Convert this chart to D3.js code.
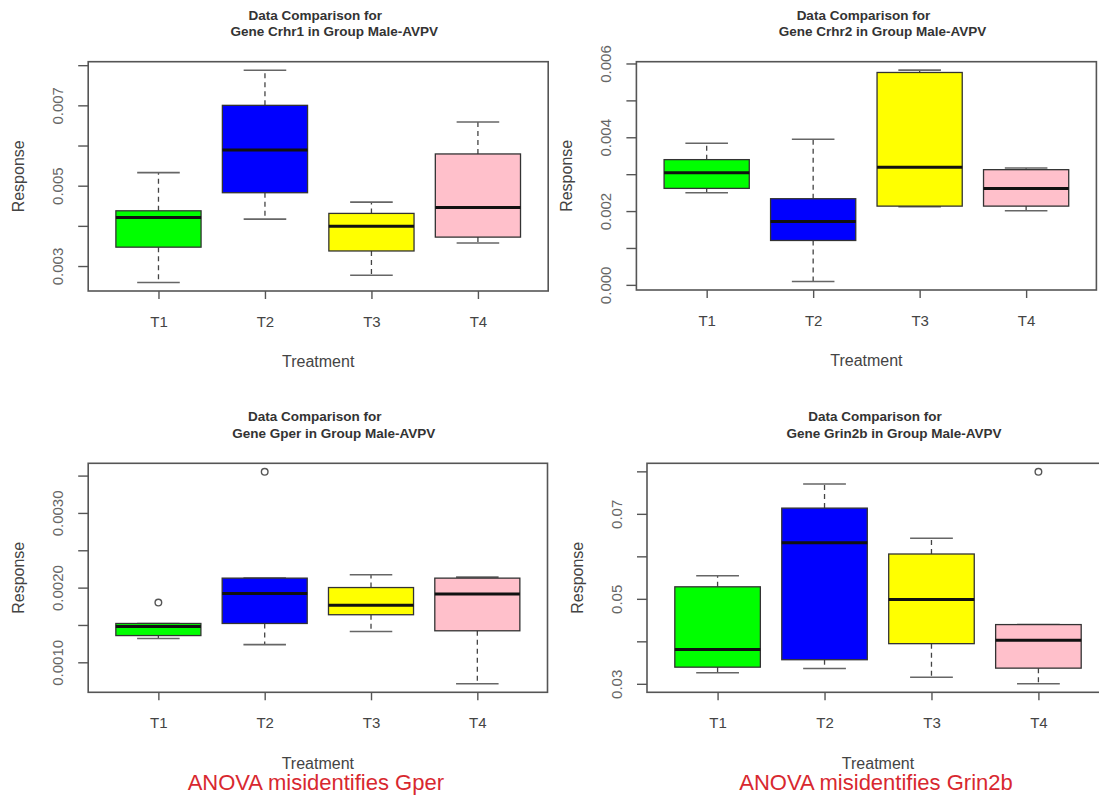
<!DOCTYPE html>
<html>
<head>
<meta charset="utf-8">
<script src="https://cdn.jsdelivr.net/npm/d3@7/dist/d3.min.js"></script>
<style>
html,body{margin:0;padding:0;background:#fff;}
svg{display:block;font-family:"Liberation Sans",Arial,sans-serif;}
</style>
</head>
<body>
<svg id="chart" width="1099" height="798"></svg>
<script>
// ---- data ----
const categories = ["T1", "T2", "T3", "T4"];
const boxColors = ["#00ff00", "#0000ff", "#ffff00", "#ffc0cb"];

// [lower whisker, Q1, median, Q3, upper whisker]
const crhr1Stats = [
  [0.00259, 0.00347, 0.00421, 0.004375, 0.005325],
  [0.004167, 0.004825, 0.00589, 0.007, 0.007875],
  [0.00277, 0.003375, 0.00399, 0.00431, 0.00459],
  [0.003575, 0.00372, 0.00446, 0.00579, 0.006585]
];
const crhr1Outliers = [[], [], [], []];
const crhr1Ticks = [0.003, 0.004, 0.005, 0.006, 0.007, 0.008];
const crhr1Labels = ["0.003", "", "0.005", "", "0.007", ""];

const crhr2Stats = [
  [0.002498, 0.002615, 0.003041, 0.003394, 0.003837],
  [0.00009, 0.001203, 0.001719, 0.002335, 0.003945],
  [0.002118, 0.002134, 0.003185, 0.005756, 0.005819],
  [0.002009, 0.002134, 0.002615, 0.003122, 0.003166]
];
const crhr2Outliers = [[], [], [], []];
const crhr2Ticks = [0.000, 0.001, 0.002, 0.003, 0.004, 0.005, 0.006];
const crhr2Labels = ["0.000", "", "0.002", "", "0.004", "", "0.006"];

const gperStats = [
  [0.001318, 0.001358, 0.00148, 0.00152, 0.00152],
  [0.001237, 0.00152, 0.00192, 0.002127, 0.002127],
  [0.001412, 0.001637, 0.001763, 0.002001, 0.002172],
  [0.000712, 0.001422, 0.001916, 0.002127, 0.00214]
];
const gperOutliers = [[0.0018], [0.003551], [], []];
const gperTicks = [0.0010, 0.0015, 0.0020, 0.0025, 0.0030, 0.0035];
const gperLabels = ["0.0010", "", "0.0020", "", "0.0030", ""];

const grin2bStats = [
  [0.0326, 0.03392, 0.0381, 0.05283, 0.05543],
  [0.03362, 0.03567, 0.06322, 0.07135, 0.07702],
  [0.03156, 0.03945, 0.04985, 0.06055, 0.06426],
  [0.03, 0.03369, 0.04023, 0.04394, 0.04394]
];
const grin2bOutliers = [[], [], [], [0.0799]];
const grin2bTicks = [0.03, 0.04, 0.05, 0.06, 0.07, 0.08];
const grin2bLabels = ["0.03", "", "0.05", "", "0.07", ""];

const genes = ["Crhr1", "Crhr2", "Gper", "Grin2b"];
const notes = ["", "", "ANOVA misidentifies Gper", "ANOVA misidentifies Grin2b"];

// ---- layout ----
const panels = [
  {gene: genes[0], stats: crhr1Stats, out: crhr1Outliers, ticks: crhr1Ticks, labels: crhr1Labels, note: notes[0],
   left: 88.2, right: 548.2, top: 61.7, bottom: 291},
  {gene: genes[1], stats: crhr2Stats, out: crhr2Outliers, ticks: crhr2Ticks, labels: crhr2Labels, note: notes[1],
   left: 636.4, right: 1096.4, top: 61.7, bottom: 290},
  {gene: genes[2], stats: gperStats, out: gperOutliers, ticks: gperTicks, labels: gperLabels, note: notes[2],
   left: 88.2, right: 547.5, top: 463.3, bottom: 692.3},
  {gene: genes[3], stats: grin2bStats, out: grin2bOutliers, ticks: grin2bTicks, labels: grin2bLabels, note: notes[3],
   left: 647, right: 1109, top: 463.3, bottom: 692.3}
];

const svg = d3.select("#chart");

panels.forEach(p => {
  const g = svg.append("g");
  const x = d3.scaleLinear().domain([0.34, 4.66]).range([p.left, p.right]);
  const allVals = p.stats.flat().concat(p.out.flat());
  const [mn, mx] = d3.extent(allVals);
  const ext = (mx - mn) * 0.04;
  const y = d3.scaleLinear().domain([mn - ext, mx + ext]).range([p.bottom, p.top]);
  const cx = (p.left + p.right) / 2;

  // title
  g.append("text").attr("x", cx - 3).attr("y", p.top - 46.5)
    .attr("text-anchor", "middle").attr("dominant-baseline", "central")
    .attr("font-size", 13.5).attr("font-weight", "bold").attr("fill", "#333")
    .text("Data Comparison for");
  g.append("text").attr("x", cx + 16).attr("y", p.top - 30)
    .attr("text-anchor", "middle").attr("dominant-baseline", "central")
    .attr("font-size", 13.5).attr("font-weight", "bold").attr("fill", "#333")
    .text("Gene " + p.gene + " in Group Male-AVPV");

  // boxes
  p.stats.forEach((s, i) => {
    const xc = i + 1;
    const col = boxColors[i];
    const bx = g.append("g");
    // whiskers (dashed)
    bx.append("line").attr("x1", x(xc)).attr("x2", x(xc)).attr("y1", y(s[3])).attr("y2", y(s[4]))
      .attr("stroke", "#444").attr("stroke-width", 1.3).attr("stroke-dasharray", "5,4");
    bx.append("line").attr("x1", x(xc)).attr("x2", x(xc)).attr("y1", y(s[1])).attr("y2", y(s[0]))
      .attr("stroke", "#444").attr("stroke-width", 1.3).attr("stroke-dasharray", "5,4");
    // staples
    [s[0], s[4]].forEach(v => {
      bx.append("line").attr("x1", x(xc - 0.2)).attr("x2", x(xc + 0.2)).attr("y1", y(v)).attr("y2", y(v))
        .attr("stroke", "#666").attr("stroke-width", 1.6);
    });
    // box
    bx.append("rect").attr("x", x(xc - 0.4)).attr("width", x(xc + 0.4) - x(xc - 0.4))
      .attr("y", y(s[3])).attr("height", y(s[1]) - y(s[3]))
      .attr("fill", col).attr("stroke", "#333").attr("stroke-width", 1.3);
    // median
    bx.append("line").attr("x1", x(xc - 0.4)).attr("x2", x(xc + 0.4)).attr("y1", y(s[2])).attr("y2", y(s[2]))
      .attr("stroke", "#111").attr("stroke-width", 3);
    // outliers
    p.out[i].forEach(v => {
      bx.append("circle").attr("cx", x(xc)).attr("cy", y(v)).attr("r", 3.3)
        .attr("fill", "none").attr("stroke", "#555").attr("stroke-width", 1.4);
    });
  });

  // frame
  g.append("rect").attr("x", p.left).attr("y", p.top).attr("width", p.right - p.left).attr("height", p.bottom - p.top)
    .attr("fill", "none").attr("stroke", "#555").attr("stroke-width", 1.6);

  // y axis
  const yAxis = d3.axisLeft(y).tickValues(p.ticks).tickSize(10).tickFormat((d, i) => p.labels[i]);
  const ya = g.append("g").attr("transform", `translate(${p.left},0)`).call(yAxis);
  ya.select(".domain").remove();
  ya.selectAll(".tick line").attr("stroke", "#555").attr("stroke-width", 1.4);
  ya.selectAll(".tick text").attr("x", 0).attr("y", -31).attr("dy", null)
    .attr("transform", "rotate(-90)").attr("text-anchor", "middle").attr("dominant-baseline", "central")
    .attr("font-size", 15).attr("fill", "#666").attr("font-family", "Liberation Sans, Arial, sans-serif");

  // x axis
  const xAxis = d3.axisBottom(x).tickValues([1, 2, 3, 4]).tickSize(8).tickFormat((d, i) => categories[i]);
  const xa = g.append("g").attr("transform", `translate(0,${p.bottom})`).call(xAxis);
  xa.select(".domain").remove();
  xa.selectAll(".tick line").attr("stroke", "#555").attr("stroke-width", 1.4);
  xa.selectAll(".tick text").attr("y", 30.7).attr("dy", null).attr("dominant-baseline", "central")
    .attr("font-size", 15).attr("fill", "#444").attr("font-family", "Liberation Sans, Arial, sans-serif");

  // axis titles
  g.append("text").attr("x", cx).attr("y", p.bottom + 70.7)
    .attr("text-anchor", "middle").attr("dominant-baseline", "central")
    .attr("font-size", 16).attr("fill", "#444").text("Treatment");
  g.append("text").attr("transform", `translate(${p.left - 70},${(p.top + p.bottom) / 2}) rotate(-90)`)
    .attr("text-anchor", "middle").attr("dominant-baseline", "central")
    .attr("font-size", 16).attr("fill", "#444").text("Response");

  if (p.note) {
    g.append("text").attr("x", cx - 2).attr("y", p.bottom + 90)
      .attr("text-anchor", "middle").attr("dominant-baseline", "central")
      .attr("font-size", 22).attr("fill", "#d8282f").text(p.note);
  }
});
</script>
</body>
</html>
